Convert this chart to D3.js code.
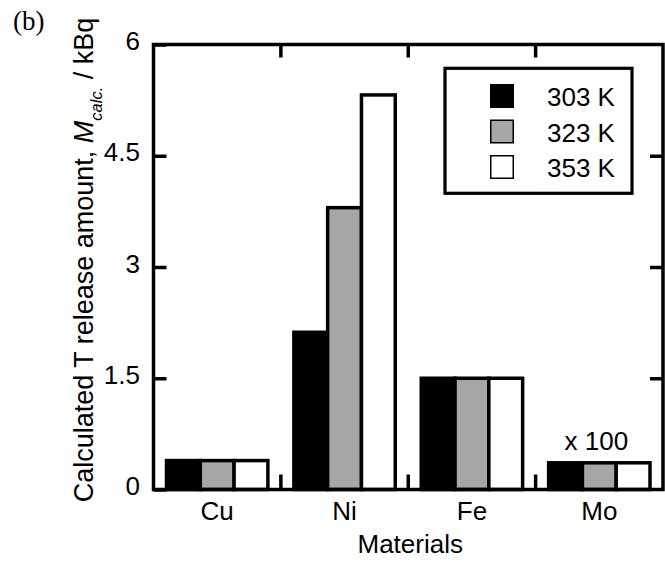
<!DOCTYPE html>
<html>
<head>
<meta charset="utf-8">
<script src="https://cdn.jsdelivr.net/npm/d3@7/dist/d3.min.js"></script>
<style>
  html, body { margin: 0; padding: 0; background: #fff; }
  svg { display: block; }
  text { font-family: "Liberation Sans", Arial, sans-serif; fill: #000; }
</style>
</head>
<body>
<svg id="chart" width="665" height="563"></svg>
<script>
// Calculated tritium release amount per material and temperature
const materials = ["Cu", "Ni", "Fe", "Mo"];
const temperatures = ["303 K", "323 K", "353 K"];
const release303 = [0.39, 2.12, 1.50, 0.36];
const release323 = [0.39, 3.80, 1.50, 0.36];
const release353 = [0.39, 5.32, 1.50, 0.36];
const yTickValues = [0, 1.5, 3, 4.5, 6];
const yTickLabels = ["0", "1.5", "3", "4.5", "6"];
const scaleNote = "x 100";   // Mo values are magnified 100 times
const scaledMaterial = "Mo";

const seriesValues = [release303, release323, release353];
const barFills = ["#000000", "#a6a6a6", "#ffffff"];

const svg = d3.select("#chart");
const plot = { left: 153.5, right: 663, top: 44.5, bottom: 489.5 };
const fontSize = 26;

const x0 = d3.scaleBand().domain(materials).range([plot.left, plot.right]).padding(0);
const x1 = d3.scaleBand().domain(temperatures).range([13, x0.bandwidth() - 13]).padding(0);
const y = d3.scaleLinear().domain([0, 6]).range([plot.bottom, plot.top]);

// Bars
const groups = svg.append("g").selectAll("g")
  .data(materials)
  .join("g")
  .attr("transform", d => `translate(${x0(d)},0)`);

groups.selectAll("rect")
  .data((m, i) => temperatures.map((t, k) => ({ t, k, v: seriesValues[k][i] })))
  .join("rect")
  .attr("x", d => x1(d.t))
  .attr("width", x1.bandwidth())
  .attr("y", d => y(d.v))
  .attr("height", d => y(0) - y(d.v))
  .attr("fill", d => barFills[d.k])
  .attr("stroke", "#000")
  .attr("stroke-width", 3.5);

// Left axis with inward ticks
const leftAxis = d3.axisLeft(y)
  .tickValues(yTickValues)
  .tickFormat((d, i) => yTickLabels[i])
  .tickSizeInner(-13)
  .tickSizeOuter(0)
  .tickPadding(13.5);
const gl = svg.append("g").attr("transform", `translate(${plot.left},0)`).call(leftAxis);
gl.select(".domain").remove();
gl.selectAll(".tick line").attr("stroke", "#000").attr("stroke-width", 3.5);
gl.selectAll(".tick text")
  .attr("font-family", "Liberation Sans, Arial, sans-serif")
  .attr("font-size", fontSize)
  .attr("dy", "0.2em");

// Right axis: ticks only
const rightAxis = d3.axisRight(y)
  .tickValues(yTickValues.slice(1, -1))
  .tickFormat("")
  .tickSizeInner(-13)
  .tickSizeOuter(0);
const gr = svg.append("g").attr("transform", `translate(${plot.right},0)`).call(rightAxis);
gr.select(".domain").remove();
gr.selectAll(".tick line").attr("stroke", "#000").attr("stroke-width", 3.5);

// Category labels
const bottomAxis = d3.axisBottom(x0).tickSize(0).tickPadding(12);
const gb = svg.append("g").attr("transform", `translate(0,${plot.bottom})`).call(bottomAxis);
gb.select(".domain").remove();
gb.selectAll(".tick text")
  .attr("font-family", "Liberation Sans, Arial, sans-serif")
  .attr("font-size", fontSize);

// Ticks at category boundaries, bottom (upward) and top (downward)
const boundaries = materials.slice(1).map(m => x0(m));
svg.append("g").selectAll("line.bt")
  .data(boundaries).join("line")
  .attr("x1", d => d).attr("x2", d => d)
  .attr("y1", plot.bottom).attr("y2", plot.bottom - 15)
  .attr("stroke", "#000").attr("stroke-width", 3.5);
svg.append("g").selectAll("line.tt")
  .data(boundaries).join("line")
  .attr("x1", d => d).attr("x2", d => d)
  .attr("y1", plot.top).attr("y2", plot.top + 13)
  .attr("stroke", "#000").attr("stroke-width", 3.5);

// Frame
svg.append("rect")
  .attr("x", plot.left).attr("y", plot.top)
  .attr("width", plot.right - plot.left).attr("height", plot.bottom - plot.top)
  .attr("fill", "none").attr("stroke", "#000").attr("stroke-width", 3.5);

// Magnification note above Mo
const moIdx = materials.indexOf(scaledMaterial);
svg.append("text")
  .attr("x", x0(scaledMaterial) + x0.bandwidth() / 2 - 3)
  .attr("y", y(d3.max(seriesValues, s => s[moIdx])) - 13)
  .attr("text-anchor", "middle")
  .attr("font-size", fontSize)
  .text(scaleNote);

// Axis titles
svg.append("text")
  .attr("x", (plot.left + plot.right) / 2 + 2)
  .attr("y", 553)
  .attr("text-anchor", "middle")
  .attr("font-size", fontSize)
  .text("Materials");

const yTitle = svg.append("text")
  .attr("transform", "translate(93,260) rotate(-90)")
  .attr("text-anchor", "middle")
  .attr("font-size", 27);
yTitle.append("tspan").text("Calculated T release amount, ");
yTitle.append("tspan").attr("font-style", "italic").text("M");
yTitle.append("tspan").attr("font-style", "italic").attr("font-size", 16.5).attr("dy", 9).text("calc.");
yTitle.append("tspan").attr("dy", -9).text(" / kBq");

// Panel label
svg.append("text")
  .attr("x", 13).attr("y", 30)
  .style("font-family", "'Liberation Serif', 'Times New Roman', serif")
  .attr("font-size", 27)
  .text("(b)");

// Legend
const legend = svg.append("g");
legend.append("rect")
  .attr("x", 445).attr("y", 68.3)
  .attr("width", 187).attr("height", 125)
  .attr("fill", "#fff").attr("stroke", "#000").attr("stroke-width", 3.2);
temperatures.forEach((t, k) => {
  const cy = 96 + k * 35.5;
  legend.append("rect")
    .attr("x", 490.75).attr("y", cy - 11.25)
    .attr("width", 22.5).attr("height", 22.5)
    .attr("fill", barFills[k]).attr("stroke", "#000").attr("stroke-width", 1.5);
  legend.append("text")
    .attr("x", 547).attr("y", cy + 10)
    .attr("font-size", fontSize)
    .text(t);
});
</script>
</body>
</html>
